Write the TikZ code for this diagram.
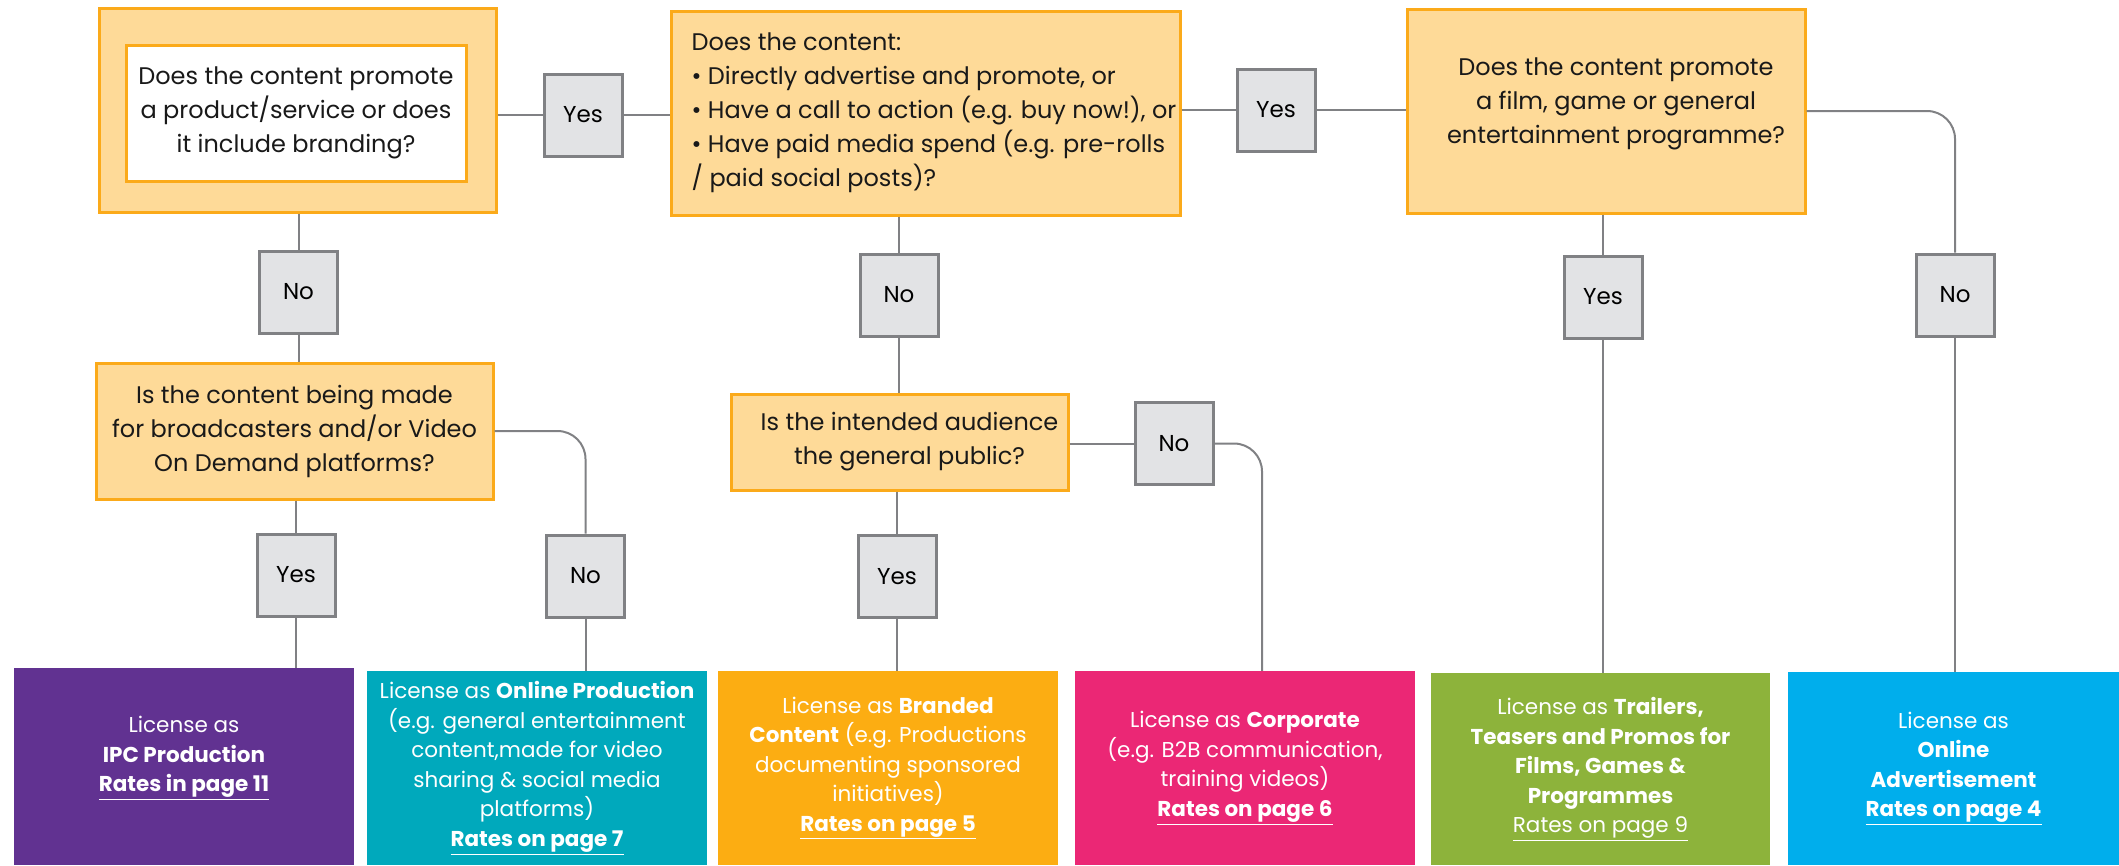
\documentclass[tikz,border=0pt]{standalone}
\usepackage{fontspec}
\setmainfont{Poppins}
\usepackage{tikz}
\definecolor{peach}{HTML}{FEDA98}
\definecolor{amber}{HTML}{FBAA1A}
\definecolor{ash-grey}{HTML}{E2E3E5}
\definecolor{slate}{HTML}{808184}
\definecolor{grape}{HTML}{613291}
\definecolor{teal-blue}{HTML}{00A9BC}
\definecolor{tangerine}{HTML}{FCAD12}
\definecolor{rose-pink}{HTML}{EB2775}
\definecolor{olive-green}{HTML}{8DB33B}
\definecolor{sky-blue}{HTML}{00AEEC}

\begin{document}
\begin{tikzpicture}[x=1pt,y=-1pt,
		question/.style={draw=amber,fill=peach,line width=3pt,inner sep=0pt,align=center,
			text=black!90,font=\fontsize{24}{34}\selectfont},
		answer/.style={draw=slate,fill=ash-grey,line width=3pt,inner sep=0pt,
			minimum width=78pt,minimum height=82pt,font=\fontsize{23}{28}\selectfont},
		result/.style={text=white,inner sep=0pt,align=center,font=\fontsize{21.5}{29.5}\selectfont},
		link/.style={draw=slate,line width=2pt}
	]
		\useasboundingbox (0,0) rectangle (2119,865);

		% Questions
		\node[question,minimum width=397pt,minimum height=204pt] (q1) at (297.5,110) {};
		\node[question,fill=white,minimum width=340pt,minimum height=136pt] (q1text) at (296,113)
			{Does the content promote\\a product/service or does\\it include branding?};
		\node[question,align=left,minimum width=509pt,minimum height=204pt] (q2) at (925.5,113)
			{\hspace*{17pt}Does the content:\\
			\hspace*{17pt}\textbullet\ Directly advertise and promote, or\\
			\hspace*{17pt}\textbullet\ Have a call to action (e.g. buy now!), or\\
			\hspace*{17pt}\textbullet\ Have paid media spend (e.g. pre-rolls\\
			\hspace*{17pt}/ paid social posts)?};
		\node[question,minimum width=398pt,minimum height=204pt] (q3) at (1606,111)
			{\hspace*{20pt}Does the content promote\\\hspace*{20pt}a film, game or general\\\hspace*{20pt}entertainment programme?\\[-14pt]\mbox{}};
		\node[question,minimum width=397pt,minimum height=136pt] (q4) at (294.5,431)
			{Is the content being made\\for broadcasters and/or Video\\On Demand platforms?};
		\node[question,minimum width=337pt,minimum height=96pt] (q5) at (899.5,442)
			{\hspace*{20pt}Is the intended audience\\\hspace*{20pt}the general public?};

		% Answers
		\node[answer] (y1) at (583,115) {Yes};
		\node[answer] (y2) at (1276,110) {Yes};
		\node[answer] (n1) at (298.5,292) {No};
		\node[answer] (n2) at (899,295) {No};
		\node[answer] (y3) at (1603,297) {Yes};
		\node[answer] (n3) at (1955,295) {No};
		\node[answer] (y4) at (296,575) {Yes};
		\node[answer] (n4) at (585.5,576) {No};
		\node[answer] (n5) at (1174,443.5) {No};
		\node[answer] (y5) at (897,576.5) {Yes};

		% Licences
		\node[result,fill=grape,minimum width=340pt,minimum height=197pt] (r1) at (184,766.5)
			{License as\\\textbf{IPC Production}\\\underline{\textbf{Rates in page 11}}\\[-5pt]\mbox{}};
		\node[result,fill=teal-blue,minimum width=340pt,minimum height=194pt] (r2) at (537,768)
			{License as \textbf{Online Production}\\(e.g. general entertainment\\content,made for video\\sharing \& social media\\platforms)\\\underline{\textbf{Rates on page 7}}};
		\node[result,fill=tangerine,minimum width=340pt,minimum height=194pt] (r3) at (888,768)
			{License as \textbf{Branded}\\\textbf{Content} (e.g. Productions\\documenting sponsored\\initiatives)\\\underline{\textbf{Rates on page 5}}};
		\node[result,fill=rose-pink,minimum width=340pt,minimum height=194pt] (r4) at (1245,768)
			{License as \textbf{Corporate}\\(e.g. B2B communication,\\training videos)\\\underline{\textbf{Rates on page 6}}};
		\node[result,fill=olive-green,minimum width=339pt,minimum height=192pt] (r5) at (1600.5,769)
			{License as \textbf{Trailers,}\\\textbf{Teasers and Promos for}\\\textbf{Films, Games \&}\\\textbf{Programmes}\\\underline{Rates on page 9}};
		\node[result,fill=sky-blue,minimum width=331pt,minimum height=193pt] (r6) at (1953.5,768.5)
			{License as\\\textbf{Online}\\\textbf{Advertisement}\\\underline{\textbf{Rates on page 4}}};

		% Top row
		\draw[link] (y1.west -| q1.east) -- (y1.west);
		\draw[link] (y1.east) -- (y1.east -| q2.west);
		\draw[link] (y2.west -| q2.east) -- (y2.west);
		\draw[link] (y2.east) -- (y2.east -| q3.west);

		% Down the left
		\draw[link] (q1.south -| n1) -- (n1.north);
		\draw[link] (n1.south) -- (n1.south |- q4.north);
		\draw[link] (q4.south -| y4) -- (y4.north);
		\draw[link] (y4.south) -- (y4.south |- r1.north);
		\draw[link,rounded corners=28pt] (q4.east) -| (n4.north);
		\draw[link] (n4.south) -- (n4.south |- r2.north);

		% Down the middle
		\draw[link] (q2.south -| n2) -- (n2.north);
		\draw[link] (n2.south) -- (n2.south |- q5.north);
		\draw[link] (q5.south -| y5) -- (y5.north);
		\draw[link] (y5.south) -- (y5.south |- r3.north);
		\draw[link] (n5.west -| q5.east) -- (n5.west);
		\draw[link,rounded corners=28pt] (n5.east) -| ([xshift=17pt]r4.north);

		% Down the right
		\draw[link] (q3.south -| y3) -- (y3.north);
		\draw[link] (y3.south) -- (y3.south |- r5.north);
		\draw[link,rounded corners=28pt] (q3.east) -| (n3.north);
		\draw[link] (n3.south) -- (n3.south |- r6.north);

	\end{tikzpicture}
\end{document}
